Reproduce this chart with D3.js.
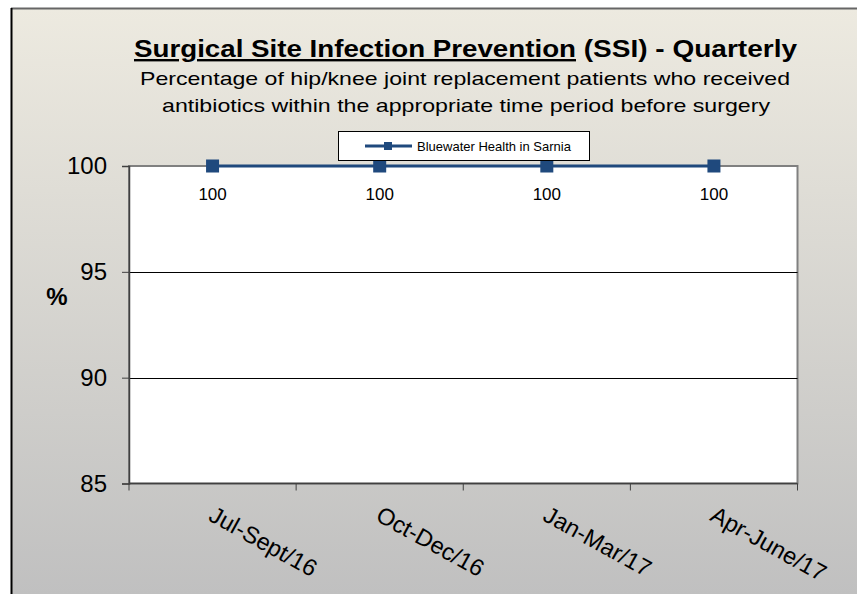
<!DOCTYPE html>
<html>
<head>
<meta charset="utf-8">
<script src="https://cdn.jsdelivr.net/npm/d3@7"></script>
<style>
  html, body { margin: 0; padding: 0; background: #fff; }
  svg { display: block; font-family: Arial, "Liberation Sans", sans-serif; }
</style>
</head>
<body>
<script>
const quarters = ["Jul-Sept/16", "Oct-Dec/16", "Jan-Mar/17", "Apr-June/17"]
const values = [100, 100, 100, 100]
const yTicks = [85, 90, 95, 100]
const seriesName = "Bluewater Health in Sarnia"

const width = 857
const height = 594
const plot = { left: 129, right: 797.5, top: 166, bottom: 483.5 }
const navy = "#1F497D"

const svg = d3.select("body").append("svg")
    .attr("width", width)
    .attr("height", height)

const defs = svg.append("defs")
const grad = defs.append("linearGradient")
    .attr("id", "bg")
    .attr("x1", 0).attr("y1", 0).attr("x2", 0).attr("y2", 1)
grad.append("stop").attr("offset", "0%").attr("stop-color", "#EDEAE0")
grad.append("stop").attr("offset", "100%").attr("stop-color", "#C0C0C0")

// chart panel
svg.append("rect")
    .attr("x", 11).attr("y", 8)
    .attr("width", width - 11).attr("height", height - 8)
    .attr("fill", "url(#bg)")
svg.append("line")
    .attr("x1", 11).attr("x2", width).attr("y1", 8.5).attr("y2", 8.5)
    .attr("stroke", "#666").attr("stroke-width", 2)
svg.append("line")
    .attr("x1", 11.5).attr("x2", 11.5).attr("y1", 8).attr("y2", height)
    .attr("stroke", "#000").attr("stroke-width", 2)

// titles (the original text is a little wider than Arial, so stretch it)
const title = svg.append("text")
    .attr("x", 134).attr("y", 57)
    .attr("font-size", 24)
    .attr("font-weight", "bold")
title.append("tspan")
    .attr("text-decoration", "underline")
    .attr("textLength", 442).attr("lengthAdjust", "spacingAndGlyphs")
    .text("Surgical Site Infection Prevention")
title.append("tspan")
    .attr("textLength", 221).attr("lengthAdjust", "spacingAndGlyphs")
    .text(" (SSI) - Quarterly")

svg.append("text")
    .attr("x", 140).attr("y", 85)
    .attr("font-size", 19)
    .attr("textLength", 650).attr("lengthAdjust", "spacingAndGlyphs")
    .text("Percentage of hip/knee joint replacement patients who received")
svg.append("text")
    .attr("x", 162).attr("y", 112)
    .attr("font-size", 19)
    .attr("textLength", 608).attr("lengthAdjust", "spacingAndGlyphs")
    .text("antibiotics within the appropriate time period before surgery")

// scales
const x = d3.scaleBand()
    .domain(quarters)
    .range([plot.left, plot.right])
const y = d3.scaleLinear()
    .domain([85, 100])
    .range([plot.bottom, plot.top])

// plot area
svg.append("rect")
    .attr("x", plot.left).attr("y", plot.top)
    .attr("width", plot.right - plot.left).attr("height", plot.bottom - plot.top)
    .attr("fill", "#fff")
    .attr("stroke", "#808080")
    .attr("stroke-width", 2)

// grid lines
svg.append("g")
    .selectAll("line")
    .data(yTicks.filter(d => d > 85 && d < 100))
    .join("line")
    .attr("x1", plot.left).attr("x2", plot.right)
    .attr("y1", d => Math.round(y(d)) + 0.5)
    .attr("y2", d => Math.round(y(d)) + 0.5)
    .attr("stroke", "#000")
    .attr("stroke-width", 1)

// y axis
const yAxis = svg.append("g")
    .attr("transform", `translate(${plot.left},0)`)
    .call(d3.axisLeft(y).tickValues(yTicks).tickSize(7).tickPadding(15))
yAxis.select(".domain").attr("stroke", "#404040").attr("stroke-width", 1.5)
yAxis.selectAll(".tick line").attr("stroke", "#404040")
yAxis.selectAll(".tick text")
    .attr("font-size", 24)
    .attr("font-family", "Arial, 'Liberation Sans', sans-serif")
    .attr("fill", "#000")

svg.append("text")
    .attr("x", 57).attr("y", 305)
    .attr("text-anchor", "middle")
    .attr("font-size", 24)
    .attr("font-weight", "bold")
    .text("%")

// x axis: ticks between categories
const xAxis = svg.append("g")
    .attr("transform", `translate(0,${plot.bottom})`)
xAxis.append("line")
    .attr("x1", plot.left).attr("x2", plot.right)
    .attr("stroke", "#404040").attr("stroke-width", 1.5)
xAxis.selectAll(".tk")
    .data(quarters)
    .join("line")
    .attr("class", "tk")
    .attr("x1", d => x(d) + x.bandwidth())
    .attr("x2", d => x(d) + x.bandwidth())
    .attr("y1", 0).attr("y2", 7)
    .attr("stroke", "#404040")
xAxis.append("line")
    .attr("x1", plot.left).attr("x2", plot.left)
    .attr("y1", 0).attr("y2", 7)
    .attr("stroke", "#404040")

svg.append("g")
    .selectAll("text")
    .data(quarters)
    .join("text")
    .attr("transform", d => `translate(${x(d) + x.bandwidth() / 2 + 3},505) rotate(29)`)
    .attr("dy", "0.72em")
    .attr("font-size", 23.5)
    .text(d => d)

// series line
const pts = quarters.map((q, i) => [x(q) + x.bandwidth() / 2, y(values[i])])
svg.append("path")
    .attr("d", d3.line()(pts))
    .attr("fill", "none")
    .attr("stroke", navy)
    .attr("stroke-width", 3)

svg.append("g")
    .selectAll("rect")
    .data(pts)
    .join("rect")
    .attr("x", d => d[0] - 6.5)
    .attr("y", d => d[1] - 6.5)
    .attr("width", 13).attr("height", 13)
    .attr("fill", navy)

svg.append("g")
    .selectAll("text")
    .data(quarters)
    .join("text")
    .attr("x", d => x(d) + x.bandwidth() / 2)
    .attr("y", (d, i) => y(values[i]) + 34)
    .attr("text-anchor", "middle")
    .attr("font-size", 17)
    .text((d, i) => values[i])

// legend
const lg = svg.append("g").attr("transform", "translate(338,131)")
lg.append("rect")
    .attr("x", 0.5).attr("y", 0.5)
    .attr("width", 251).attr("height", 29)
    .attr("fill", "#fff")
    .attr("stroke", "#000")
lg.append("line")
    .attr("x1", 27).attr("x2", 74).attr("y1", 15).attr("y2", 15)
    .attr("stroke", navy).attr("stroke-width", 3)
lg.append("rect")
    .attr("x", 46).attr("y", 11).attr("width", 8).attr("height", 8)
    .attr("fill", navy)
lg.append("text")
    .attr("x", 79).attr("y", 19.5)
    .attr("font-size", 13)
    .text(seriesName)
</script>
</body>
</html>
